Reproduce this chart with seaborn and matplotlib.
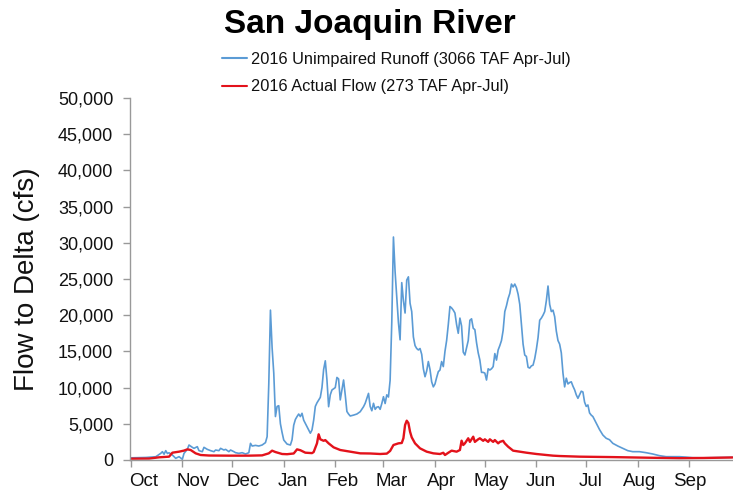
import pandas as pd
import numpy as np
import seaborn as sns
import matplotlib.pyplot as plt
import matplotlib.dates as mdates
from matplotlib.ticker import FuncFormatter, FixedLocator, FixedFormatter, NullFormatter

# day of water year (0 = 1 Oct 2015) and daily flow in cfs
runoff_day = [0, 9, 15, 18, 19, 20, 21, 22, 23, 25, 27, 29,
              31, 32, 34, 35, 37, 38, 40, 41, 43, 44, 46, 48, 50, 51, 53, 54, 56, 57, 59, 60,
              62, 63, 65, 67, 69, 71, 72, 73, 75, 77, 79, 81, 82, 83, 84, 85, 86, 87, 88, 89, 90, 91,
              92, 94, 96, 97, 98, 99, 100, 101, 102, 103, 104, 106, 108, 109, 110, 111, 112, 114,
              115, 116, 117, 118, 119, 120, 121, 123,
              124, 125, 126, 127, 128, 129, 130, 131, 132, 134, 136, 138, 140, 141, 142, 143, 144,
              145, 146, 147, 148, 149, 150, 151,
              152, 153, 154, 155, 156, 157, 158, 159, 160, 161, 162, 163, 164, 165, 166, 167, 168,
              169, 170, 171, 172, 173, 174, 175, 176, 177, 178, 179, 180, 181, 182,
              183, 184, 185, 186, 187, 188, 189, 190, 191, 192, 193, 194, 195, 196, 197, 198, 199,
              200, 201, 202, 203, 204, 205, 206, 207, 208, 209, 210, 211, 212,
              213, 214, 215, 216, 217, 218, 219, 220, 221, 222, 223, 224, 225, 226, 227, 228, 229,
              230, 231, 232, 233, 234, 235, 236, 237, 238, 239, 240, 241, 242, 243,
              244, 245, 246, 247, 248, 249, 250, 251, 252, 253, 254, 255, 256, 257, 258, 259, 260,
              261, 262, 263, 264, 265, 266, 267, 268, 269, 270, 271, 272, 273,
              274, 275, 276, 277, 278, 280, 282, 284, 286, 288, 290, 293, 296, 299, 302,
              306, 310, 314, 318, 322, 326, 330, 334, 338, 344, 350, 356, 362]
runoff_cfs = [300, 350, 450, 920, 1150, 800, 1290, 900, 1000, 690, 230, 460,
              100, 920, 1470, 2070, 1750, 1610, 1840, 1290, 1150, 1750, 1470, 1290, 1150, 1380, 1290, 1610, 1380, 1470, 1150, 1380,
              1150, 1010, 920, 1010, 830, 1010, 2300, 1930, 2020, 1930, 2070, 2400, 3220, 10500, 20700, 15500, 12000, 6000, 7400, 7500, 5000, 3800,
              2760, 2200, 2070, 2800, 4800, 5600, 6000, 6350, 6000, 6450, 5500, 4600, 3700, 4150, 5500, 7400, 7900, 8650,
              10000, 12500, 13700, 11050, 7360, 9000, 9670, 10000,
              11400, 11200, 8300, 9670, 11050, 9000, 6700, 6350, 6080, 6200, 6350, 6670, 7360, 7830, 8500, 9200, 7400,
              6800, 7830, 7000, 7300, 7360, 7000, 7800,
              8740, 7800, 9000, 8700, 11000, 19000, 30800, 26000, 22550, 19000, 16600, 24500, 22000, 20300, 24850, 25300, 21650,
              20500, 17000, 15800, 15400, 15200, 15400, 14600, 12600, 11500, 12300, 13600, 12500, 10800, 10100,
              10500, 11400, 12200, 12430, 13600, 12900, 15000, 16500, 18700, 21200, 21000, 20700, 20300, 18700, 17500, 19600, 18500,
              14900, 14500, 15500, 16500, 19300, 19500, 18200, 18000, 16200, 14800, 13800, 12100, 12100,
              12000, 11050, 12600, 12430, 12600, 12900, 14700, 13800, 15200, 15800, 16500, 17900, 20500, 21300, 22300, 23000, 24300,
              23900, 24300, 23800, 22900, 21500, 18800, 16000, 14500, 14300, 12800, 12700, 13000, 13100, 14000,
              15300, 16900, 19300, 19600, 20000, 20500, 22000, 24030, 21500, 20500, 20700, 19800, 17800, 16500, 16000, 14800, 12000,
              10100, 11300, 10500, 10700, 10800, 10200, 9700, 9000, 8520, 9000, 9500, 9400, 8000,
              7400, 7600, 6500, 6200, 6000, 5100, 4200, 3450, 3000, 2800, 2300, 1930, 1610, 1290, 1150,
              1150, 1010, 830, 600, 460, 460, 460, 400, 320, 300, 320, 350, 370]

actual_day = [0, 11, 17, 23, 25, 29, 32, 34, 36, 39, 42, 47, 59, 71, 79, 83, 85, 87, 91, 94,
              98, 100, 102, 105, 109, 110, 112, 113, 114, 116, 117, 119, 122, 126, 132, 138, 144, 150, 154, 156,
              158, 161, 163, 164, 165, 166, 167, 168, 169, 171, 174, 178, 182, 186, 188, 189, 191, 193, 196, 198,
              199, 200, 201, 203, 204, 206, 207, 209, 210, 212, 213, 215, 216, 218, 219, 221, 222, 224, 225, 227,
              230, 234, 238, 244, 250, 254, 258, 270, 290, 310, 330, 345, 362]
actual_cfs = [180, 200, 370, 460, 1010, 1150, 1300, 1470, 1380, 920, 690, 620, 600, 600, 640, 920, 1290, 1100, 830, 800,
              900, 1470, 1350, 1010, 950, 1100, 2300, 3550, 2860, 2650, 2750, 2300, 1750, 1380, 1150, 920, 900, 830, 880, 1250,
              2070, 2300, 2350, 3000, 4830, 5430, 5100, 3900, 3130, 2300, 1610, 1150, 920, 830, 1000, 690, 1000, 1290, 1150, 1380,
              2670, 2070, 2300, 3000, 2500, 3220, 2500, 2860, 3000, 2650, 2860, 2500, 2860, 2500, 2760, 2300, 2500, 2650, 2300, 1840,
              1290, 1150, 1010, 830, 690, 600, 550, 460, 400, 320, 250, 280, 350]

series_labels = ['2016 Unimpaired Runoff (3066 TAF Apr-Jul)', '2016 Actual Flow (273 TAF Apr-Jul)']
month_labels = ['Oct', 'Nov', 'Dec', 'Jan', 'Feb', 'Mar', 'Apr', 'May', 'Jun', 'Jul', 'Aug', 'Sep']

start = pd.Timestamp('2015-10-01')
df = pd.concat([
    pd.DataFrame({'date': start + pd.to_timedelta(runoff_day, unit='D'), 'cfs': runoff_cfs, 'series': series_labels[0]}),
    pd.DataFrame({'date': start + pd.to_timedelta(actual_day, unit='D'), 'cfs': actual_cfs, 'series': series_labels[1]}),
])

sns.set_style('white')
plt.rcParams['font.family'] = ['Liberation Sans', 'DejaVu Sans']
for key in ['text.color', 'axes.labelcolor', 'xtick.labelcolor', 'ytick.labelcolor']:
    plt.rcParams[key] = '#111111'

fig = plt.figure(figsize=(7.33, 4.96), dpi=100)
ax = fig.add_axes([130 / 733, 36 / 496, 1 - 130 / 733, 362 / 496])

blue, red = '#5b9bd5', '#e3121b'
sns.lineplot(data=df, x='date', y='cfs', hue='series', hue_order=series_labels,
             palette=[blue, red], ax=ax, estimator=None)
ax.lines[0].set_linewidth(1.2)
ax.lines[1].set_linewidth(1.7)

ax.set_ylim(0, 50000)
ax.set_yticks(np.arange(0, 50001, 5000))
ax.yaxis.set_major_formatter(FuncFormatter(lambda v, p: f'{int(v):,}'))
ax.set_xlim(start - pd.Timedelta(hours=12), start + pd.Timedelta(days=362.3))

# month-start ticks; month names sit a little after each tick
ax.xaxis.set_major_locator(mdates.MonthLocator())
ax.xaxis.set_major_formatter(NullFormatter())
label_pos = [mdates.date2num(start + pd.Timedelta(days=7.8 + 29.85 * i)) for i in range(12)]
ax.xaxis.set_minor_locator(FixedLocator(label_pos))
ax.xaxis.set_minor_formatter(FixedFormatter(month_labels))
ax.tick_params(axis='x', which='major', bottom=True, length=5, color='#999999', width=1, direction='out')
ax.tick_params(axis='x', which='minor', bottom=True, length=0, labelsize=13.5, pad=9)
ax.tick_params(axis='y', left=True, length=5, color='#999999', width=1, labelsize=13, pad=7, direction='out')

sns.despine(ax=ax)
for s in ['left', 'bottom']:
    ax.spines[s].set_color('#999999')
    ax.spines[s].set_linewidth(1)

ax.set_xlabel('')
ax.set_ylabel('Flow to Delta (cfs)', fontsize=20)
ax.yaxis.set_label_coords(-0.15, 0.5)

handles, labels = ax.get_legend_handles_labels()
ax.legend(handles, labels, loc='upper left', bbox_to_anchor=(222 / 733, 1 - 52 / 496),
          bbox_transform=fig.transFigure, frameon=False, fontsize=11.8, handlelength=1.5,
          handletextpad=0.3, labelspacing=0.75, borderpad=0, borderaxespad=0)

fig.text(370 / 733, 1 - 24 / 496, 'San Joaquin River', ha='center', va='center',
         fontsize=24, fontweight='bold', color='black')

fig.savefig('out.png', dpi=100)
